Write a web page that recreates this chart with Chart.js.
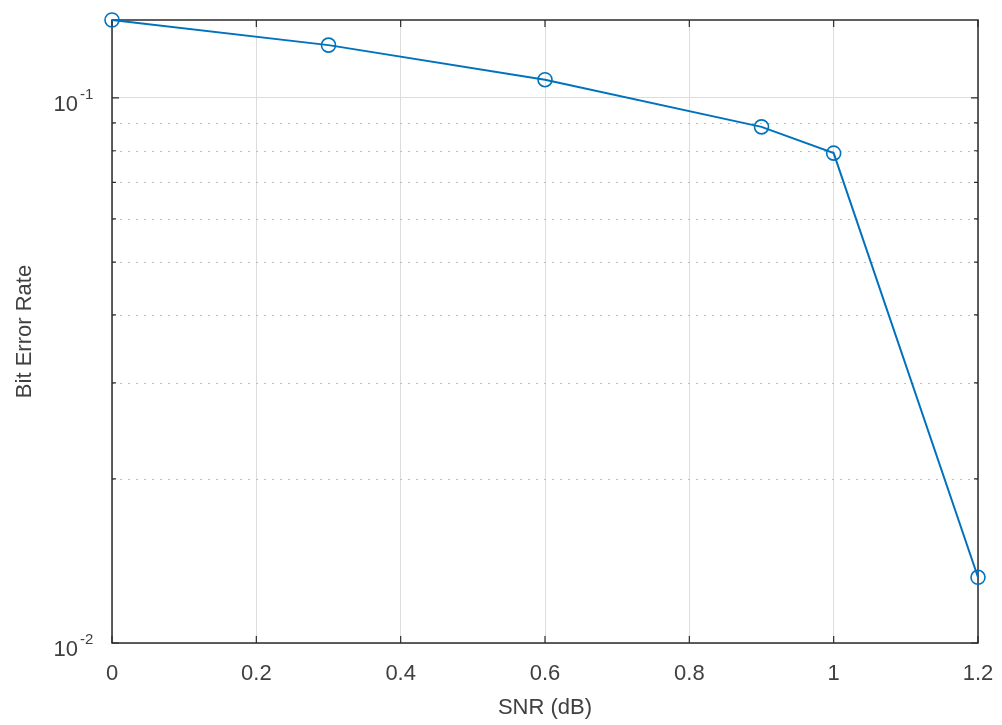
<!DOCTYPE html>
<html>
<head>
<meta charset="utf-8">
<script src="https://cdn.jsdelivr.net/npm/chart.js@4/dist/chart.umd.min.js"></script>
<style>
  html, body { margin: 0; padding: 0; background: #fff; }
</style>
</head>
<body>
<canvas id="berChart" width="1002" height="725"></canvas>
<script>
// data
const snrDb = [0, 0.3, 0.6, 0.9, 1.0, 1.2];
const bitErrorRate = [0.139, 0.125, 0.108, 0.0885, 0.0792, 0.0132];

const xTickValues = [0, 0.2, 0.4, 0.6, 0.8, 1, 1.2];
const yMajorTicks = [0.01, 0.1];
const yMajorExponents = ["-2", "-1"];
const yMinorTicks = [0.02, 0.03, 0.04, 0.05, 0.06, 0.07, 0.08, 0.09];

const FONT = '"Liberation Sans", Arial, Helvetica, sans-serif';
const TEXT_COLOR = "#404040";
const AXIS_COLOR = "#2b2b2b";

Chart.defaults.font.family = FONT;
Chart.defaults.color = TEXT_COLOR;

// MATLAB style box, inner ticks, dotted minor grid and 10^n labels
const matlabAxes = {
  id: "matlabAxes",
  beforeDatasetsDraw(chart) {
    const { ctx, chartArea: a, scales } = chart;
    const x = scales.x, y = scales.y;
    ctx.save();

    // dotted minor grid
    ctx.strokeStyle = "#bdbdbd";
    ctx.lineWidth = 1;
    ctx.setLineDash([2, 6]);
    yMinorTicks.forEach(v => {
      const py = Math.round(y.getPixelForValue(v)) + 0.5;
      ctx.beginPath();
      ctx.moveTo(a.left, py);
      ctx.lineTo(a.right, py);
      ctx.stroke();
    });
    ctx.setLineDash([]);

    // box
    ctx.strokeStyle = AXIS_COLOR;
    ctx.lineWidth = 1.5;
    ctx.strokeRect(a.left, a.top, a.right - a.left, a.bottom - a.top);

    // inner ticks
    ctx.lineWidth = 1.2;
    ctx.beginPath();
    xTickValues.forEach(v => {
      const px = x.getPixelForValue(v);
      ctx.moveTo(px, a.bottom); ctx.lineTo(px, a.bottom - 7);
      ctx.moveTo(px, a.top); ctx.lineTo(px, a.top + 7);
    });
    yMajorTicks.forEach(v => {
      const py = y.getPixelForValue(v);
      ctx.moveTo(a.left, py); ctx.lineTo(a.left + 7, py);
      ctx.moveTo(a.right, py); ctx.lineTo(a.right - 7, py);
    });
    yMinorTicks.forEach(v => {
      const py = y.getPixelForValue(v);
      ctx.moveTo(a.left, py); ctx.lineTo(a.left + 4, py);
      ctx.moveTo(a.right, py); ctx.lineTo(a.right - 4, py);
    });
    ctx.stroke();
    ctx.restore();
  },
  afterDraw(chart) {
    const { ctx, scales } = chart;
    const y = scales.y;
    ctx.save();
    ctx.fillStyle = TEXT_COLOR;
    yMajorTicks.forEach((v, i) => {
      const py = y.getPixelForValue(v);
      ctx.font = "22px " + FONT;
      ctx.textAlign = "right";
      ctx.textBaseline = "middle";
      ctx.fillText("10", 78, py + 7);
      ctx.font = "15px " + FONT;
      ctx.textAlign = "left";
      ctx.fillText(yMajorExponents[i], 80, py - 3);
    });
    ctx.restore();
  }
};

new Chart(document.getElementById("berChart"), {
  type: "line",
  data: {
    datasets: [{
      data: snrDb.map((s, i) => ({ x: s, y: bitErrorRate[i] })),
      borderColor: "#0072BD",
      borderWidth: 2,
      tension: 0,
      pointStyle: "circle",
      pointRadius: 7,
      pointBorderWidth: 1.6,
      pointBorderColor: "#0072BD",
      pointBackgroundColor: "rgba(0,0,0,0)",
      clip: false
    }]
  },
  options: {
    responsive: false,
    animation: false,
    layout: { padding: { top: 20, right: 24, left: 0, bottom: 0 } },
    plugins: { legend: { display: false }, tooltip: { enabled: false } },
    scales: {
      x: {
        type: "linear",
        min: 0,
        max: 1.2,
        afterBuildTicks: s => { s.ticks = xTickValues.map(v => ({ value: v })); },
        afterFit: s => { s.height = 82; s.paddingLeft = 0; s.paddingRight = 0; },
        grid: { color: "#dcdcdc", lineWidth: 1, drawTicks: false },
        border: { display: false },
        ticks: {
          padding: 18,
          maxRotation: 0,
          font: { size: 22 },
          callback: v => String(v)
        },
        title: {
          display: true,
          text: "SNR (dB)",
          font: { size: 22 },
          padding: { top: 0, bottom: 4 }
        }
      },
      y: {
        type: "logarithmic",
        min: 0.01,
        max: 0.139,
        afterBuildTicks: s => {
          s.ticks = yMajorTicks.concat(yMinorTicks).map(v => ({ value: v }));
        },
        afterFit: s => { s.width = 112; },
        grid: {
          drawTicks: false,
          lineWidth: 1,
          color: c => (c.tick && yMajorTicks.includes(c.tick.value)) ? "#dcdcdc" : "rgba(0,0,0,0)"
        },
        border: { display: false },
        ticks: { callback: () => "" },
        title: {
          display: true,
          text: "Bit Error Rate",
          font: { size: 22 },
          padding: { top: 12, bottom: 0 }
        }
      }
    }
  },
  plugins: [matlabAxes]
});
</script>
</body>
</html>
